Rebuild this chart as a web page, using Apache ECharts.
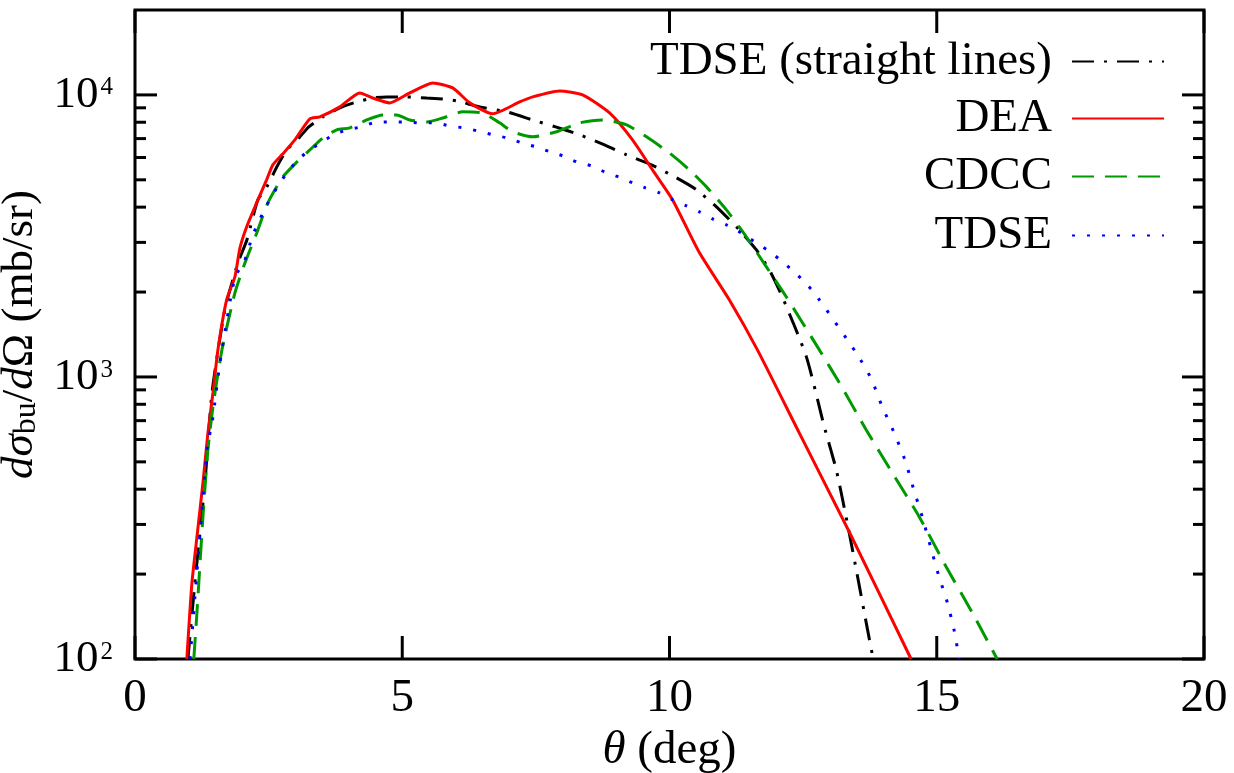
<!DOCTYPE html>
<html>
<head>
<meta charset="utf-8">
<title>breakup angular distribution</title>
<script src="https://cdn.jsdelivr.net/npm/echarts@6/dist/echarts.min.js"></script>
<style>
  html, body { margin: 0; padding: 0; background: #fff; }
  #chart { width: 1234px; height: 773px; }
</style>
</head>
<body>
<div id="chart"></div>
<script>
// theta in deg, cross section in mb/sr
var thetaStraight = [0.99, 1.12, 1.308, 1.44, 1.68, 1.925, 2.093, 2.299, 2.467, 2.654, 2.841, 3.084,
  3.252, 3.514, 3.832, 4.093, 4.449, 4.71, 5.047, 5.458, 5.757, 6.019, 6.449, 6.953,
  7.439, 7.869, 8.318, 8.785, 9.196, 9.664, 10.131, 10.505, 10.879, 11.308, 11.626, 11.869,
  12.112, 12.561, 12.897, 13.121, 13.327, 13.495, 13.682, 13.81];
var sigmaStraight = [100, 186, 421, 877, 1730, 2535, 3060, 4250, 4720, 5560, 6380, 7100,
  7700, 8360, 8990, 9370, 9750, 9840, 9840, 9750, 9680, 9520, 9070, 8710,
  8150, 7700, 7220, 6650, 6130, 5650, 5080, 4610, 4010, 3320, 2820, 2395,
  1920, 1178, 665, 468, 303, 207, 134, 100];

var thetaDEA = [0.97, 1.065, 1.159, 1.271, 1.364, 1.458, 1.551, 1.714, 1.869, 1.963, 2.088, 2.275,
  2.462, 2.579, 2.766, 2.991, 3.271, 3.458, 3.832, 4.206, 4.449, 4.766, 5.14, 5.57,
  5.944, 6.262, 6.692, 7.196, 7.439, 7.944, 8.374, 8.879, 9.308, 9.682, 10.056, 10.561,
  11.121, 11.645, 12.43, 13.364, 14.52];
var sigmaDEA = [100, 186, 271, 421, 632, 877, 1247, 1875, 2264, 2866, 3403, 4140,
  4999, 5650, 6180, 6925, 8220, 8360, 9070, 10160, 9750, 9370, 10160, 11030,
  10590, 9370, 8570, 9440, 9840, 10330, 10000, 8630, 6925, 5420, 4250, 2754,
  1875, 1247, 632, 282, 100];

var thetaCDCC = [1.1, 1.159, 1.271, 1.364, 1.458, 1.626, 1.869, 2.056, 2.28, 2.486, 2.766, 3.028,
  3.271, 3.514, 3.776, 4.019, 4.336, 4.636, 4.897, 5.14, 5.458, 5.757, 6.131, 6.505,
  6.822, 7.065, 7.439, 7.888, 8.318, 8.748, 9.196, 9.57, 10.0, 10.374, 10.692, 11.065,
  11.439, 11.813, 12.187, 12.804, 13.178, 13.682, 14.168, 14.673, 15.178, 15.664, 16.13];
var sigmaCDCC = [100, 146, 319, 551, 783, 1247, 1986, 2535, 3245, 4140, 5118, 5780,
  6380, 7040, 7520, 7640, 8150, 8490, 8490, 8150, 8020, 8280, 8710, 8630,
  7960, 7400, 7100, 7400, 7960, 8150, 7830, 7100, 6220, 5420, 4720, 3910,
  3135, 2455, 1920, 1247, 953, 649, 457, 319, 212, 146, 100];

var thetaTDSE = [1.03, 1.121, 1.252, 1.346, 1.458, 1.589, 1.869, 2.037, 2.206, 2.467, 2.71, 2.86,
  3.047, 3.271, 3.495, 3.72, 3.963, 4.243, 4.523, 4.785, 5.065, 5.327, 5.607, 5.888,
  6.15, 6.411, 6.692, 6.953, 7.234, 7.495, 7.757, 8.0, 8.262, 8.542, 8.785, 9.047,
  9.308, 9.551, 9.813, 10.056, 10.318, 10.561, 10.804, 11.065, 11.252, 11.458, 11.682, 11.907,
  12.112, 12.336, 12.523, 12.71, 13.495, 13.776, 13.981, 14.206, 14.411, 14.561, 14.729, 14.879,
  15.028, 15.196, 15.327, 15.42];
var sigmaTDSE = [100, 166, 337, 551, 721, 1122, 2264, 2535, 3190, 4074, 4877, 5335,
  5890, 6380, 6810, 7220, 7520, 7710, 8020, 8020, 8020, 7960, 7960, 7760,
  7640, 7450, 7220, 7040, 6760, 6550, 6290, 6080, 5790, 5600, 5335, 5118,
  4877, 4680, 4490, 4250, 4040, 3850, 3635, 3460, 3320, 3135, 2940, 2755,
  2560, 2357, 2173, 1986, 1216, 984, 783, 632, 504, 404, 319, 252,
  200, 159, 126, 100];

var seriesNames = ['TDSE (straight lines)', 'DEA', 'CDCC', 'TDSE'];

// axis ticks
var xTicks = [0, 5, 10, 15, 20];
var yMajorTicks = [100, 1000, 10000];
var yMinorTicks = [200, 300, 400, 500, 600, 700, 800, 900,
  2000, 3000, 4000, 5000, 6000, 7000, 8000, 9000];

var serif = 'Liberation Serif';

function zip(xs, ys) {
  return xs.map(function(x, i) { return [x, ys[i]]; });
}

function tickLine(x1, y1, x2, y2) {
  return {
    type: 'line',
    shape: { x1: x1, y1: y1, x2: x2, y2: y2 },
    style: { stroke: '#000', lineWidth: 3 }
  };
}

// inward ticks on left and right side
function renderYTick(params, api) {
  var v = api.value(1);
  var len = api.value(2) === 1 ? 22 : 11;
  var l = api.coord([0, v]);
  var r = api.coord([20, v]);
  return {
    type: 'group',
    children: [tickLine(l[0], l[1], l[0] + len, l[1]), tickLine(r[0] - len, r[1], r[0], r[1])]
  };
}

// inward ticks on bottom and top side
function renderXTick(params, api) {
  var t = api.value(0);
  var b = api.coord([t, 100]);
  var top = api.coord([t, 20000]);
  return {
    type: 'group',
    children: [tickLine(b[0], b[1], b[0], b[1] - 23), tickLine(top[0], top[1], top[0], top[1] + 23)]
  };
}

function lineSeries(name, data, color, dash) {
  return {
    name: name,
    type: 'line',
    data: data,
    symbol: 'none',
    smooth: 0.2,
    lineStyle: { color: color, width: 3, type: dash, cap: 'butt' },
    itemStyle: { color: color },
    z: 3
  };
}

function legendRow(name, top) {
  return {
    data: [name],
    right: 69,
    top: top,
    padding: 0,
    align: 'right',
    itemWidth: 92,
    itemHeight: 20,
    selectedMode: false,
    itemStyle: { opacity: 0 },
    textStyle: { fontFamily: serif, fontSize: 47, color: '#000', padding: [0, 15, 0, 0] }
  };
}

var chart = echarts.init(document.getElementById('chart'));

var option = {
  animation: false,
  grid: {
    left: 135, right: 30, top: 10, bottom: 114,
    containLabel: false,
    outerBoundsMode: 'none',
    show: true, borderColor: '#000', borderWidth: 3, backgroundColor: 'transparent'
  },
  legend: [
    legendRow(seriesNames[0], 38),
    legendRow(seriesNames[1], 95),
    legendRow(seriesNames[2], 153),
    legendRow(seriesNames[3], 212)
  ],
  xAxis: {
    type: 'value',
    min: 0, max: 20, interval: 5,
    axisLine: { show: false },
    axisTick: { show: false },
    splitLine: { show: false },
    axisLabel: { fontFamily: serif, fontSize: 47, color: '#000', margin: 16 },
    name: '{i|θ} (deg)',
    nameLocation: 'middle',
    nameGap: 62,
    nameTextStyle: {
      fontFamily: serif, fontSize: 47, color: '#000',
      rich: { i: { fontFamily: serif, fontSize: 47, fontStyle: 'italic', color: '#000' } }
    }
  },
  yAxis: {
    type: 'log',
    logBase: 10,
    min: 100, max: 20000,
    axisLine: { show: false },
    axisTick: { show: false },
    splitLine: { show: false },
    axisLabel: {
      margin: 22,
      formatter: function(v) {
        var e = Math.round(Math.log10(v));
        if (Math.abs(Math.pow(10, e) - v) > 1e-6 * v) return '';
        return '{b|10}{s|' + e + '}';
      },
      rich: {
        b: { fontFamily: serif, fontSize: 45, color: '#000' },
        s: { fontFamily: serif, fontSize: 25, color: '#000', verticalAlign: 'top', padding: [3, 0, 0, 2] }
      }
    },
    name: '{i|dσ}{sub|bu}{n|/}{i|d}{n|Ω (mb/sr)}',
    nameLocation: 'middle',
    nameGap: 82,
    nameTextStyle: {
      fontFamily: serif, fontSize: 45, color: '#000',
      rich: {
        i: { fontFamily: serif, fontSize: 45, fontStyle: 'italic', color: '#000' },
        n: { fontFamily: serif, fontSize: 45, color: '#000' },
        sub: { fontFamily: serif, fontSize: 32, color: '#000', verticalAlign: 'bottom' }
      }
    }
  },
  series: [
    lineSeries(seriesNames[0], zip(thetaStraight, sigmaStraight), '#000000', [22, 10, 3, 10]),
    lineSeries(seriesNames[1], zip(thetaDEA, sigmaDEA), '#ff0000', 'solid'),
    lineSeries(seriesNames[2], zip(thetaCDCC, sigmaCDCC), '#009a00', [22, 11]),
    lineSeries(seriesNames[3], zip(thetaTDSE, sigmaTDSE), '#0000ff', [3, 12]),
    {
      type: 'custom',
      renderItem: renderYTick,
      dimensions: ['x', 'y', 'major'],
      encode: { x: 0, y: 1 },
      data: yMajorTicks.map(function(v) { return [0, v, 1]; })
        .concat(yMinorTicks.map(function(v) { return [0, v, 0]; })),
      silent: true,
      z: 5
    },
    {
      type: 'custom',
      renderItem: renderXTick,
      encode: { x: 0, y: 1 },
      data: xTicks.map(function(t) { return [t, 100]; }),
      silent: true,
      z: 5
    }
  ]
};

chart.setOption(option);
</script>
</body>
</html>
